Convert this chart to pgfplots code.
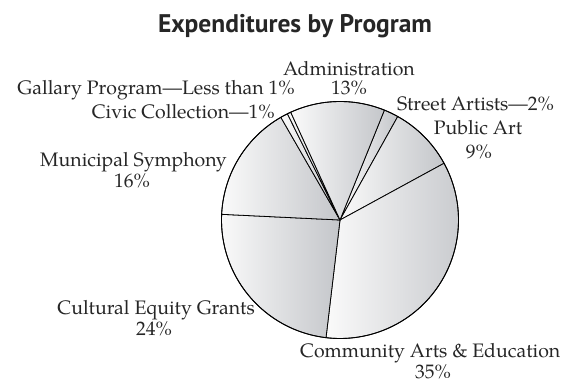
\documentclass[border=0pt]{standalone}
\usepackage{pgfplots}
\pgfplotsset{compat=1.18}
\usepackage{pgfplotstable}
\usepackage{fontspec}
\setmainfont{TeX Gyre Pagella}
\newfontfamily\titlefont{PT Sans}
\definecolor{pieR}{RGB}{196,198,202}
\definecolor{pieL}{RGB}{250,250,250}

\pgfplotstableread[col sep=comma]{
label,value
Street Artists,2
Public Art,9
Community Arts and Education,35
Cultural Equity Grants,24
Municipal Symphony,16
Civic Collection,1
Gallary Program,0.5
Administration,13
}\pietable

\begin{document}
\begin{tikzpicture}
\begin{axis}[
  width=571pt, height=385pt, scale only axis,
  xmin=0, xmax=571, ymin=0, ymax=385,
  hide axis, clip=false,
]
\path (axis cs:0,0) rectangle (axis cs:571,385);
\def\cx{340}\def\cy{165}\def\R{118.5}
\def\cum{0}
\pgfplotsforeachungrouped \i in {0,...,7}{%
  \pgfplotstablegetelem{\i}{value}\of{\pietable}%
  \let\v\pgfplotsretval
  \pgfmathsetmacro\a{68-\cum/100.5*360}%
  \pgfmathsetmacro\b{68-(\cum+\v)/100.5*360}%
  \pgfmathsetmacro\cum{\cum+\v}%
  \edef\temp{\noexpand\path[draw=black, line width=0.8pt, line join=round, left color=pieL, right color=pieR]
    (axis cs:\cx,\cy) -- (axis cs:{\cx+\R*cos(\a)},{\cy+\R*sin(\a)})
    arc[start angle=\a, end angle=\b, radius=\R pt] -- cycle;}%
  \temp
}
\draw[line width=0.9pt] (axis cs:\cx,\cy) circle[radius=\R pt];

\tikzset{lab/.style={font=\fontsize{19.5}{22}\selectfont, inner sep=0pt, text=black!85}}
\node[anchor=base, inner sep=0pt, font=\titlefont\bfseries\fontsize{25.5}{28}\selectfont, text=black!85] at (axis cs:295,352) {Expenditures by Program};

\node[lab, anchor=base] at (axis cs:349,309) {Administration};
\node[lab, anchor=base] at (axis cs:349,290) {13\%};
\node[lab, anchor=base east] at (axis cs:295,290) {Gallary Program---Less than 1\%};
\node[lab, anchor=base east] at (axis cs:275,266) {Civic Collection---1\%};
\node[lab, anchor=base west] at (axis cs:397,274) {Street Artists---2\%};
\node[lab, anchor=base] at (axis cs:478,250) {Public Art};
\node[lab, anchor=base] at (axis cs:479,226) {9\%};
\node[lab, anchor=base east] at (axis cs:227,218) {Municipal Symphony};
\node[lab, anchor=base] at (axis cs:132,197) {16\%};
\node[lab, anchor=base east] at (axis cs:255,70) {Cultural Equity Grants};
\node[lab, anchor=base] at (axis cs:154,49) {24\%};
\node[lab, anchor=base west] at (axis cs:300,27) {Community Arts \& Education};
\node[lab, anchor=base] at (axis cs:433,6) {35\%};
\end{axis}
\end{tikzpicture}
\end{document}
